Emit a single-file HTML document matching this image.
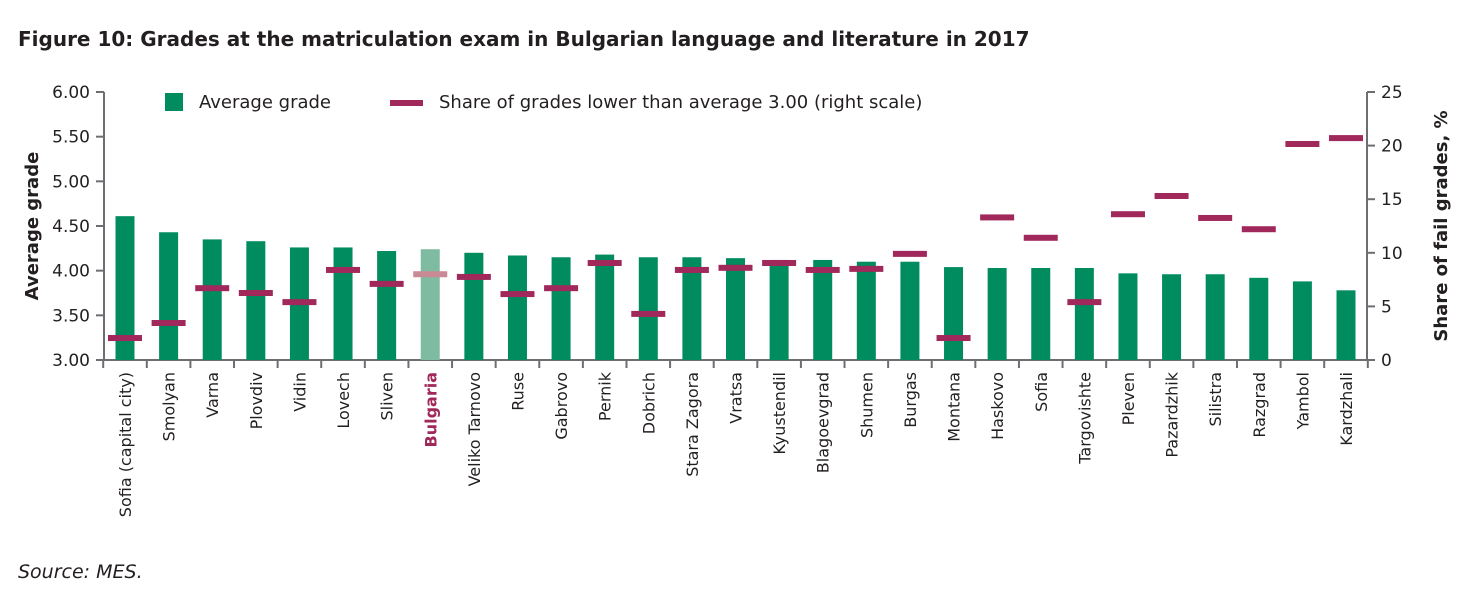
<!DOCTYPE html>
<html><head><meta charset="utf-8"><style>
body{margin:0;background:#fff;font-family:"DejaVu Sans","Liberation Sans",sans-serif;}
svg text{font-family:"DejaVu Sans","Liberation Sans",sans-serif;fill:#231f20;}
</style></head><body>
<svg id="c" width="1475" height="593">
<text x="18" y="46" font-size="20" font-weight="bold">Figure 10: Grades at the matriculation exam in Bulgarian language and literature in 2017</text>
<text x="18" y="578" font-size="19" font-style="italic">Source: MES.</text>
<g id="g"></g>
</svg>
<script>
const categories=["Sofia (capital city)","Smolyan","Varna","Plovdiv","Vidin","Lovech","Sliven","Bulgaria","Veliko Tarnovo","Ruse","Gabrovo","Pernik","Dobrich","Stara Zagora","Vratsa","Kyustendil","Blagoevgrad","Shumen","Burgas","Montana","Haskovo","Sofia","Targovishte","Pleven","Pazardzhik","Silistra","Razgrad","Yambol","Kardzhali"];
const avgGrade=[4.61,4.43,4.35,4.33,4.26,4.26,4.22,4.24,4.20,4.17,4.15,4.18,4.15,4.15,4.14,4.12,4.12,4.10,4.10,4.04,4.03,4.03,4.03,3.97,3.96,3.96,3.92,3.88,3.78];
const failShare=[2.05,3.45,6.7,6.25,5.4,8.4,7.1,8.0,7.75,6.15,6.7,9.05,4.3,8.4,8.6,9.05,8.4,8.5,9.9,2.05,13.3,11.4,5.4,13.6,15.3,13.25,12.2,20.15,20.7];
const leftTicks=["3.00","3.50","4.00","4.50","5.00","5.50","6.00"];
const rightTicks=["0","5","10","15","20","25"];
const NS="http://www.w3.org/2000/svg",g=document.getElementById('g');
const X0=104,X1=1367,Y0=360,Y1=92;
const n=categories.length,bw=(1346-125)/(n-1);
const xc=i=>125+i*bw;
const yL=v=>Y0-(v-3)/3*(Y0-Y1);
const yR=v=>Y0-v/25*(Y0-Y1);
function el(t,a,p){const e=document.createElementNS(NS,t);for(const k in a)e.setAttribute(k,a[k]);(p||g).appendChild(e);return e;}
// axes
let a=el('line',{x1:X0,y1:Y1,x2:X0,y2:Y0,stroke:'#6d6e71','stroke-width':2});


a=el('line',{x1:X1,y1:Y1,x2:X1,y2:Y0,stroke:'#6d6e71','stroke-width':2});


a=el('line',{x1:X0,y1:Y0,x2:X1,y2:Y0,stroke:'#6d6e71','stroke-width':2});


leftTicks.forEach(t=>{const y=yL(+t);el('line',{x1:X0-8,y1:y,x2:X0,y2:y,stroke:'#6d6e71','stroke-width':2});
const tx=el('text',{x:X0-14,y:y+6,'font-size':17,'text-anchor':'end'});tx.textContent=t;

});
rightTicks.forEach(t=>{const y=yR(+t);el('line',{x1:X1,y1:y,x2:X1+8,y2:y,stroke:'#6d6e71','stroke-width':2});
const tx=el('text',{x:X1+14,y:y+6,'font-size':17});tx.textContent=t;

});
for(let i=0;i<=n;i++){const x=xc(i)-bw/2;el('line',{x1:x,y1:Y0,x2:x,y2:Y0+8,stroke:'#6d6e71','stroke-width':2});}
let t=el('text',{transform:'translate(38,226) rotate(-90)','font-size':18,'font-weight':'bold','text-anchor':'middle'});t.textContent='Average grade';


t=el('text',{transform:'translate(1447,226) rotate(-90)','font-size':18,'font-weight':'bold','text-anchor':'middle'});t.textContent='Share of fail grades, %';


categories.forEach((c,i)=>{const bg=c==='Bulgaria';const x=xc(i);
const r=el('rect',{x:x-9.5,y:yL(avgGrade[i]),width:19,height:Y0-yL(avgGrade[i]),fill:bg?'#7fbba0':'#008c5e'});


const d=el('rect',{x:x-17,y:yR(failShare[i])-3,width:34,height:6,fill:bg?'#c98a95':'#a0285a'});


const l=el('text',{transform:`translate(${x+6},372) rotate(-90)`,'font-size':16,'text-anchor':'end'});l.textContent=c;
if(bg){l.setAttribute('font-weight','bold');l.style.fill='#a0285a';}

});
// legend
let lg=el('rect',{x:165,y:93,width:18,height:18,fill:'#008c5e'});


t=el('text',{x:199,y:108,'font-size':18});t.textContent='Average grade';


lg=el('rect',{x:390,y:100,width:33,height:6,fill:'#a0285a'});


t=el('text',{x:439,y:108,'font-size':18});t.textContent='Share of grades lower than average 3.00 (right scale)';


</script>
</body></html>
